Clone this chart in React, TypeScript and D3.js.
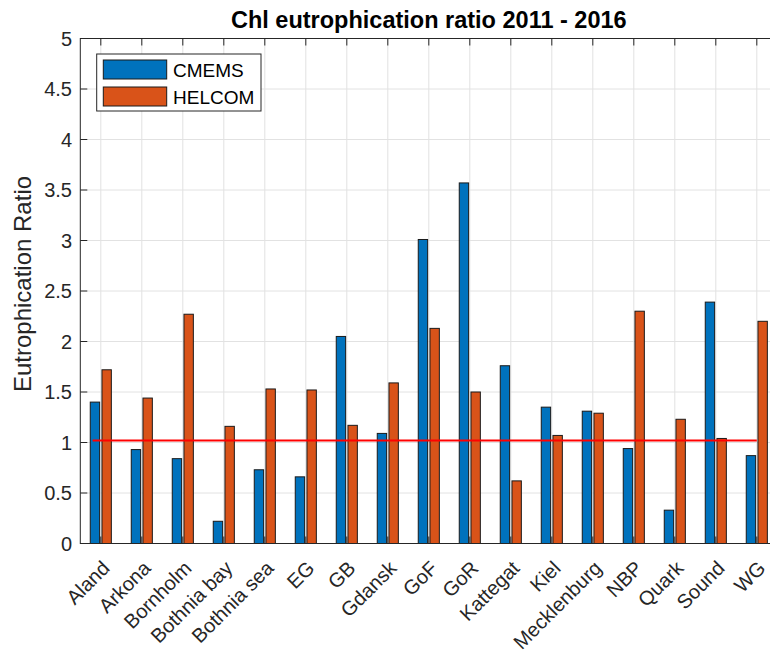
import React, { useEffect, useRef } from "react";
import * as d3 from "d3";

const categories = [
  "Aland",
  "Arkona",
  "Bornholm",
  "Bothnia bay",
  "Bothnia sea",
  "EG",
  "GB",
  "Gdansk",
  "GoF",
  "GoR",
  "Kattegat",
  "Kiel",
  "Mecklenburg",
  "NBP",
  "Quark",
  "Sound",
  "WG",
];
const cmems = [1.4, 0.93, 0.84, 0.22, 0.73, 0.66, 2.05, 1.09, 3.01, 3.57, 1.76, 1.35, 1.31, 0.94, 0.33, 2.39, 0.87];
const helcom = [1.72, 1.44, 2.27, 1.16, 1.53, 1.52, 1.17, 1.59, 2.13, 1.5, 0.62, 1.07, 1.29, 2.3, 1.23, 1.04, 2.2];
const seriesNames = ["CMEMS", "HELCOM"];
const yTicks = [0, 0.5, 1, 1.5, 2, 2.5, 3, 3.5, 4, 4.5, 5];
const threshold = 1.02;
const thresholdSpan = [0.8, 17];

const FONT = "'Liberation Sans', Arial, Helvetica, sans-serif";
const AXIS = "#262626";

const App: React.FC = () => {
  const width = 770;
  const height = 656;
  const svgRef = useRef<SVGSVGElement>(null);

  useEffect(() => {
    const svg = d3.select(svgRef.current);
    if (svg.empty()) return;
    svg.selectAll("*").remove();

    const x = d3.scaleLinear().domain([0.5, categories.length + 0.5]).range([80.3, 777.3]);
    const y = d3.scaleLinear().domain([0, 5]).range([543.5, 38.5]);
    const colors = d3.scaleOrdinal<string>().domain(seriesNames).range(["#0072BD", "#D95319"]);

    const [x0, x1] = x.range();
    const [y0, y1] = y.range();
    const tickLen = 7;

    const g = svg.append("g");

    // grid
    g.selectAll(".vgrid")
      .data(categories)
      .enter()
      .append("line")
      .attr("x1", (_, i) => x(i + 1))
      .attr("x2", (_, i) => x(i + 1))
      .attr("y1", y0)
      .attr("y2", y1)
      .attr("stroke", "#e2e2e2")
      .attr("stroke-width", 1);
    g.selectAll(".hgrid")
      .data(yTicks)
      .enter()
      .append("line")
      .attr("x1", x0)
      .attr("x2", x1)
      .attr("y1", (d) => y(d))
      .attr("y2", (d) => y(d))
      .attr("stroke", "#e2e2e2")
      .attr("stroke-width", 1);

    // bars
    const groupW = 2 / 3.5;
    const barW = (groupW / 2) * 0.8;
    const offsets = [-groupW / 4, groupW / 4];
    [cmems, helcom].forEach((vals, s) => {
      g.selectAll(`.bar-${s}`)
        .data(vals)
        .enter()
        .append("rect")
        .attr("x", (_, i) => x(i + 1 + offsets[s] - barW / 2))
        .attr("width", x(1 + barW) - x(1))
        .attr("y", (d) => y(d))
        .attr("height", (d) => y(0) - y(d))
        .attr("fill", colors(seriesNames[s]))
        .attr("stroke", "#1a1a1a")
        .attr("stroke-width", 1);
    });

    // threshold line
    g.append("line")
      .attr("x1", x(thresholdSpan[0]))
      .attr("x2", x(thresholdSpan[1]))
      .attr("y1", y(threshold))
      .attr("y2", y(threshold))
      .attr("stroke", "#ff0000")
      .attr("stroke-width", 2);

    // box + ticks
    g.append("rect")
      .attr("x", x0)
      .attr("y", y1)
      .attr("width", x1 - x0)
      .attr("height", y0 - y1)
      .attr("fill", "none")
      .attr("stroke", AXIS)
      .attr("stroke-width", 1);
    categories.forEach((_, i) => {
      const xi = x(i + 1);
      g.append("line").attr("x1", xi).attr("x2", xi).attr("y1", y0).attr("y2", y0 - tickLen).attr("stroke", AXIS);
      g.append("line").attr("x1", xi).attr("x2", xi).attr("y1", y1).attr("y2", y1 + tickLen).attr("stroke", AXIS);
    });
    yTicks.forEach((t) => {
      const yt = y(t);
      g.append("line").attr("x1", x0).attr("x2", x0 + tickLen).attr("y1", yt).attr("y2", yt).attr("stroke", AXIS);
      g.append("line").attr("x1", x1).attr("x2", x1 - tickLen).attr("y1", yt).attr("y2", yt).attr("stroke", AXIS);
    });

    // y tick labels
    g.selectAll(".ylab")
      .data(yTicks)
      .enter()
      .append("text")
      .attr("x", 72)
      .attr("y", (d) => y(d))
      .attr("dy", "0.35em")
      .attr("text-anchor", "end")
      .style("font-family", FONT)
      .style("font-size", "20px")
      .attr("fill", AXIS)
      .text((d) => d3.format("~g")(d));

    // x tick labels
    g.selectAll(".xlab")
      .data(categories)
      .enter()
      .append("text")
      .attr("transform", (_, i) => `translate(${x(i + 1) + 10},${y0 + 26}) rotate(-45)`)
      .attr("text-anchor", "end")
      .style("font-family", FONT)
      .style("font-size", "20px")
      .attr("fill", AXIS)
      .text((d) => d);

    // y axis title
    g.append("text")
      .attr("transform", `translate(31,284) rotate(-90)`)
      .attr("text-anchor", "middle")
      .style("font-family", FONT)
      .style("font-size", "24px")
      .attr("fill", AXIS)
      .text("Eutrophication Ratio");

    // title
    g.append("text")
      .attr("x", (x0 + x1) / 2)
      .attr("y", 27.5)
      .attr("text-anchor", "middle")
      .style("font-family", FONT)
      .style("font-size", "23.5px")
      .style("font-weight", "bold")
      .attr("fill", "#000")
      .text("Chl eutrophication ratio 2011 - 2016");

    // legend
    const lg = g.append("g");
    lg.append("rect")
      .attr("x", 96.7)
      .attr("y", 54)
      .attr("width", 164.3)
      .attr("height", 57)
      .attr("fill", "#fff")
      .attr("stroke", AXIS)
      .attr("stroke-width", 1);
    seriesNames.forEach((name, s) => {
      lg.append("rect")
        .attr("x", 103.3)
        .attr("y", 60 + s * 27)
        .attr("width", 63.4)
        .attr("height", 19)
        .attr("fill", colors(name))
        .attr("stroke", "#1a1a1a");
      lg.append("text")
        .attr("x", 173)
        .attr("y", 77.2 + s * 27)
        .style("font-family", FONT)
        .style("font-size", "19px")
        .attr("fill", "#000")
        .text(name);
    });
  }, []);

  return (
    <svg
      ref={svgRef}
      width={width}
      height={height}
      style={{ position: "absolute", left: 0, top: 0, background: "#fff" }}
    ></svg>
  );
};

export default App;
